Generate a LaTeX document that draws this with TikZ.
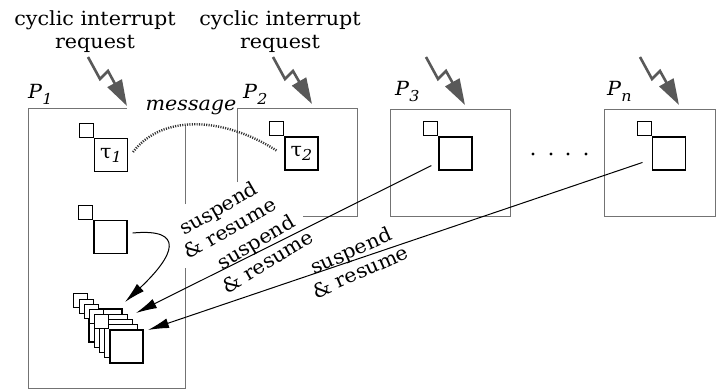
\documentclass[tikz,border=0pt]{standalone}
\usepackage{fontspec}
\setmainfont{DejaVu Serif}[FakeStretch=1.06]
\usetikzlibrary{arrows.meta, positioning}

\newcommand{\pname}[1]{\textit{P}\raisebox{-6pt}{\fontsize{15}{15}\selectfont\textit{#1}}}
\newcommand{\tname}[1]{τ\raisebox{-4pt}{\fontsize{15}{15}\selectfont\textit{#1}}}

\begin{document}
\begin{tikzpicture}[x=1pt, y=-1pt, >=Latex,
    font=\fontsize{19.5}{23}\selectfont,
    proc/.style={draw=black!55, line width=1pt},
    task/.style={draw, line width=1.1pt, minimum size=33pt, inner sep=0pt, fill=white},
    tasktag/.style={draw, line width=1.1pt, minimum size=14pt, inner sep=0pt, fill=white, anchor=south east},
    irq/.style={draw=black!65, line width=2.6pt, -{Triangle[length=26pt, width=16pt]}},
    susp/.style={line width=1pt, -{Latex[length=21pt, width=10pt]}},
    msg/.style={line width=2.4pt, black!80, dash pattern=on 1.1pt off 1.3pt}]
    \useasboundingbox (0,0) rectangle (717,389);

    % processors
    \draw[proc] (127,108) -- (28,108) -- (28,388) -- (185,388) -- (185,268);
    \draw[proc] (185,204) -- (185,125);
    \draw[proc] (237,182) -- (237,108) -- (357,108) -- (357,216) -- (303,216);
    \draw[proc] (390,109) rectangle (510,216);
    \draw[proc] (604,109) rectangle (715,216);
    \node[anchor=base west, inner sep=0pt] (p1) at (28,98) {\pname{1}};
    \node[anchor=base west, inner sep=0pt] (p2) at (243,98) {\pname{2}};
    \node[anchor=base west, inner sep=0pt] (p3) at (395,95) {\pname{3}};
    \node[anchor=base west, inner sep=0pt] (pn) at (607,95) {\pname{n}};
    \foreach \d in {533,551,568,586}
        \fill (\d,154) circle (1.7);

    % interrupt requests
    \node[anchor=north, align=center, inner sep=0pt] (req1) at (95,10) {cyclic interrupt\\request};
    \node[anchor=north, align=center, inner sep=0pt] (req2) at (280,10) {cyclic interrupt\\request};
    \foreach \x/\y in {127/106, 312/104, 465/105, 679/105}
        \draw[irq] (\x-39,57) -- ++(12,22) -- ++(8,-8) -- (\x,\y);

    % tasks
    \node[task] (t1) at (111,155) {\tname{1}};
    \node[tasktag] at (t1.north west) {};
    \node[task] (tw) at (110.5,237) {};
    \node[tasktag] at (tw.north west) {};
    \node[task] (t2) at (301.5,153.5) {\tname{2}};
    \node[tasktag] at (t2.north west) {};
    \node[task] (t3) at (455.5,153.5) {};
    \node[tasktag] at (t3.north west) {};
    \node[task] (tn) at (669,153.5) {};
    \node[tasktag] at (tn.north west) {};

    % suspended tasks
    \foreach \k in {0,...,4} {
        \node[task] (s\k) at (105.5+5.25*\k, 325.5+5.25*\k) {};
        \node[tasktag] at (s\k.north west) {};
    }
    \coordinate (in1) at (125,302);
    \coordinate (in2) at (136,313);
    \coordinate (in3) at (148,330);

    % message
    \node[inner sep=0pt] (msglabel) at (191,107) {\textit{message}};
    \draw[msg] ([shift={(5,-3)}]t1.east) .. controls +(28,-37) and +(-55,-35) .. ([shift={(-8,-3)}]t2.west);

    % suspend & resume
    \node[rotate=30, align=center, inner sep=0pt] (sr1) at (224,218) {suspend\\\& resume};
    \node[rotate=31, align=center, inner sep=0pt] (sr2) at (261.5,251.5) {suspend\\\& resume};
    \node[rotate=24, align=center, inner sep=0pt] (sr3) at (355.5,261) {suspend\\\& resume};
    \draw[susp] ([shift={(5,-4)}]tw.east) .. controls +(53,-5) and +(50,-47) .. (in1);
    \draw[susp, shorten <=8pt] (t3) -- (in2);
    \draw[susp, shorten <=10pt] (tn) -- (in3);
\end{tikzpicture}
\end{document}
